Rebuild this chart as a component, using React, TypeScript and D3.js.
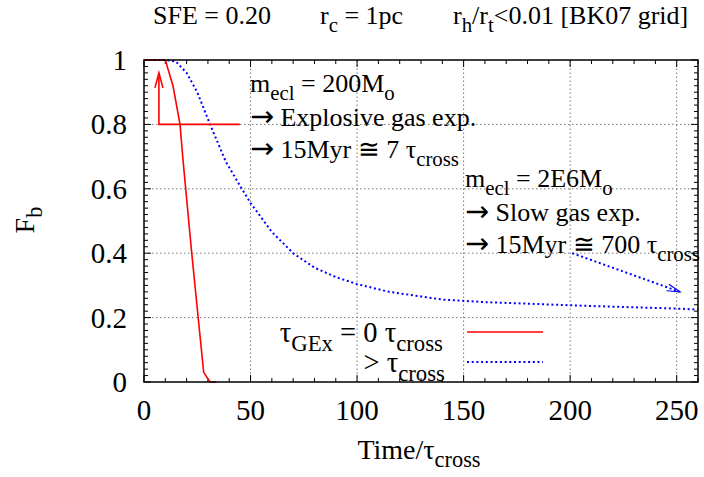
import React from "react";
import * as d3 from "d3";

// ---- data ----
const xMajorTicks = [0, 50, 100, 150, 200, 250];
const yMajorTicks = [0, 0.2, 0.4, 0.6, 0.8, 1];
const xGridTicks = [50, 100, 150, 200, 250];
const yGridTicks = [0.2, 0.4, 0.6, 0.8];

// explosive gas expulsion (tau_GEx = 0)
const explosiveTime = [0, 5, 10, 13.6, 16.9, 18.3, 22.4, 28, 31, 34];
const explosiveFb = [1, 1, 1, 0.92, 0.8, 0.69, 0.4, 0.03, 0, 0];

// slow gas expulsion (tau_GEx > tau_cross)
const slowTime = [0, 5, 10, 15, 20, 25, 31, 38.5, 45, 50, 60, 70, 80, 90, 100, 115, 140, 160, 185, 210, 250, 260];
const slowFb = [1, 1, 1, 0.995, 0.96, 0.9, 0.8, 0.683, 0.61, 0.556, 0.466, 0.4, 0.355, 0.326, 0.304, 0.28, 0.256, 0.248, 0.242, 0.236, 0.228, 0.225];

// annotation arrows (data units)
const redArrowPath = [[45, 0.8], [7, 0.8], [7, 0.96]];
const blueArrowPath = [[201, 0.4], [251.5, 0.28]];

// segment kinds: "n" normal, "s" subscript, "a" arrow glyph
type Seg = [string, string];
const title1: Seg[] = [["SFE = 0.20", "n"]];
const title2: Seg[] = [["r", "n"], ["c", "s"], [" = 1pc", "n"]];
const title3: Seg[] = [["r", "n"], ["h", "s"], ["/r", "n"], ["t", "s"], ["<0.01 [BK07 grid]", "n"]];
const note1a: Seg[] = [["m", "n"], ["ecl", "s"], [" = 200M", "n"], ["o", "s"]];
const note1b: Seg[] = [["\u2192", "a"], [" Explosive gas exp.", "n"]];
const note1c: Seg[] = [["\u2192", "a"], [" 15Myr \u2245 7 \u03c4", "n"], ["cross", "s"]];
const note2a: Seg[] = [["m", "n"], ["ecl", "s"], [" = 2E6M", "n"], ["o", "s"]];
const note2b: Seg[] = [["\u2192", "a"], [" Slow gas exp.", "n"]];
const note2c: Seg[] = [["\u2192", "a"], [" 15Myr \u2245 700 \u03c4", "n"], ["cross", "s"]];
const legend1: Seg[] = [["\u03c4", "n"], ["GEx", "s"], [" = 0 \u03c4", "n"], ["cross", "s"]];
const legend2: Seg[] = [["> \u03c4", "n"], ["cross", "s"]];
const xLabel: Seg[] = [["Time/\u03c4", "n"], ["cross", "s"]];
const yLabel: Seg[] = [["F", "n"], ["b", "s"]];

const FONT = "Liberation Serif, Times New Roman, Times, serif";
const ARROW_FONT = "DejaVu Sans, sans-serif";

function Rich({ segs, x, y, size, anchor = "start", transform }: { segs: Seg[]; x: number; y: number; size: number; anchor?: string; transform?: string }) {
  const out: React.ReactNode[] = [];
  let shifted = false;
  segs.forEach(([t, kind], i) => {
    const sub = kind === "s";
    let dy = 0;
    if (sub && !shifted) { dy = size * 0.3; shifted = true; }
    else if (!sub && shifted) { dy = -size * 0.3; shifted = false; }
    const st: React.CSSProperties = { fontSize: (sub ? size * 0.8 : kind === "a" ? size * 1.1 : size) + "px" };
    if (kind === "a") st.fontFamily = ARROW_FONT;
    out.push(
      <tspan key={i} dy={dy} style={st}>{t}</tspan>
    );
  });
  return (
    <text x={x} y={y} style={{ fontFamily: FONT, fontSize: size + "px" }} textAnchor={anchor} fill="#000" transform={transform}>
      {out}
    </text>
  );
}

export default function App() {
  const W = 704, H = 477;
  const x = d3.scaleLinear().domain([0, 260]).range([144, 698]);
  const y = d3.scaleLinear().domain([0, 1]).range([382, 60]);
  const [x0, x1] = x.range();
  const [y0, y1] = y.range();

  const line = d3.line<[number, number]>().x((d) => x(d[0])).y((d) => y(d[1]));
  const red = explosiveTime.map((t, i) => [t, explosiveFb[i]] as [number, number]);
  const blue = slowTime.map((t, i) => [t, slowFb[i]] as [number, number]);

  const xMinor = d3.range(0, 261, 10).filter((v) => v % 50 !== 0);
  const yMinor = d3.range(0, 51, 1).filter((i) => i % 10 !== 0).map((i) => i / 50);

  const majL = 7, minL = 4;

  const head = (tip: [number, number], from: [number, number], len: number, half: number) => {
    const dx = tip[0] - from[0], dy = tip[1] - from[1];
    const L = Math.hypot(dx, dy);
    const ux = dx / L, uy = dy / L;
    const bx = tip[0] - ux * len, by = tip[1] - uy * len;
    return `M${bx - uy * half},${by + ux * half}L${tip[0]},${tip[1]}L${bx + uy * half},${by - ux * half}`;
  };
  const rp = redArrowPath.map((d) => [x(d[0]), y(d[1])] as [number, number]);
  const bp = blueArrowPath.map((d) => [x(d[0]), y(d[1])] as [number, number]);

  const tickStyle = { fontFamily: FONT, fontSize: "29px" };

  return (
    <svg width={W} height={H} viewBox={`0 0 ${W} ${H}`} style={{ position: "absolute", left: 0, top: 0, background: "#fff" }}>
      <rect width={W} height={H} fill="#fff" />
      {/* grid */}
      {xGridTicks.map((v) => (
        <line key={"gx" + v} x1={x(v)} x2={x(v)} y1={y0} y2={y1} stroke="#777" strokeWidth={1} strokeDasharray="1.5,2.5" />
      ))}
      {yGridTicks.map((v) => (
        <line key={"gy" + v} x1={x0} x2={x1} y1={y(v)} y2={y(v)} stroke="#777" strokeWidth={1} strokeDasharray="1.5,2.5" />
      ))}
      {/* ticks */}
      {xMajorTicks.map((v) => (
        <g key={"xt" + v}>
          <line x1={x(v)} x2={x(v)} y1={y0} y2={y0 - majL} stroke="#000" />
          <line x1={x(v)} x2={x(v)} y1={y1} y2={y1 + majL} stroke="#000" />
        </g>
      ))}
      {xMinor.map((v) => (
        <g key={"xm" + v}>
          <line x1={x(v)} x2={x(v)} y1={y0} y2={y0 - minL} stroke="#000" />
          <line x1={x(v)} x2={x(v)} y1={y1} y2={y1 + minL} stroke="#000" />
        </g>
      ))}
      {yMajorTicks.map((v) => (
        <g key={"yt" + v}>
          <line x1={x0} x2={x0 + majL} y1={y(v)} y2={y(v)} stroke="#000" />
          <line x1={x1} x2={x1 - majL} y1={y(v)} y2={y(v)} stroke="#000" />
        </g>
      ))}
      {yMinor.map((v) => (
        <g key={"ym" + v}>
          <line x1={x0} x2={x0 + minL} y1={y(v)} y2={y(v)} stroke="#000" />
          <line x1={x1} x2={x1 - minL} y1={y(v)} y2={y(v)} stroke="#000" />
        </g>
      ))}
      {/* tick labels */}
      {xMajorTicks.map((v) => (
        <text key={"xl" + v} x={x(v)} y={420} textAnchor="middle" style={tickStyle}>{v}</text>
      ))}
      {yMajorTicks.map((v) => (
        <text key={"yl" + v} x={127} y={y(v) + 10} textAnchor="end" style={tickStyle}>{v === 0 || v === 1 ? String(v) : v.toFixed(1)}</text>
      ))}
      {/* curves */}
      <path d={line(blue) || ""} fill="none" stroke="#0000ff" strokeWidth={2} strokeDasharray="2,2.7" />
      <path d={line(red) || ""} fill="none" stroke="#ff0000" strokeWidth={1.6} />
      {/* arrows */}
      <path d={`M${rp[0][0]},${rp[0][1]}L${rp[1][0]},${rp[1][1]}L${rp[2][0]},${rp[2][1]}`} fill="none" stroke="#ff0000" strokeWidth={1.6} />
      <path d={head(rp[2], rp[1], 15, 4)} fill="none" stroke="#ff0000" strokeWidth={1.6} />
      <path d={`M${bp[0][0]},${bp[0][1]}L${bp[1][0]},${bp[1][1]}`} fill="none" stroke="#0000ff" strokeWidth={2} strokeDasharray="2,2.7" />
      <path d={head(bp[1], bp[0], 13, 3.5)} fill="none" stroke="#0000ff" strokeWidth={1.2} />
      {/* border */}
      <rect x={x0} y={y1} width={x1 - x0} height={y0 - y1} fill="none" stroke="#000" strokeWidth={1.5} />
      {/* annotations */}
      <Rich segs={note1a} x={250} y={92} size={26} />
      <Rich segs={note1b} x={250} y={126} size={26} />
      <Rich segs={note1c} x={250} y={158} size={26} />
      <Rich segs={note2a} x={465} y={187} size={26} />
      <Rich segs={note2b} x={465} y={221} size={26} />
      <Rich segs={note2c} x={465} y={253} size={26} />
      {/* legend */}
      <Rich segs={legend1} x={443} y={342} size={28.5} anchor="end" />
      <Rich segs={legend2} x={445} y={372} size={28.5} anchor="end" />
      <line x1={467} x2={543} y1={332} y2={332} stroke="#ff0000" strokeWidth={1.6} />
      <line x1={467} x2={543} y1={362} y2={362} stroke="#0000ff" strokeWidth={2} strokeDasharray="2,2.7" />
      {/* title & labels */}
      <Rich segs={title1} x={153} y={24} size={26} />
      <Rich segs={title2} x={320} y={24} size={26} />
      <Rich segs={title3} x={453} y={24} size={26} />
      <Rich segs={xLabel} x={419} y={459} size={28} anchor="middle" />
      <Rich segs={yLabel} x={0} y={0} size={28} anchor="middle" transform="translate(34,220) rotate(-90)" />
    </svg>
  );
}
